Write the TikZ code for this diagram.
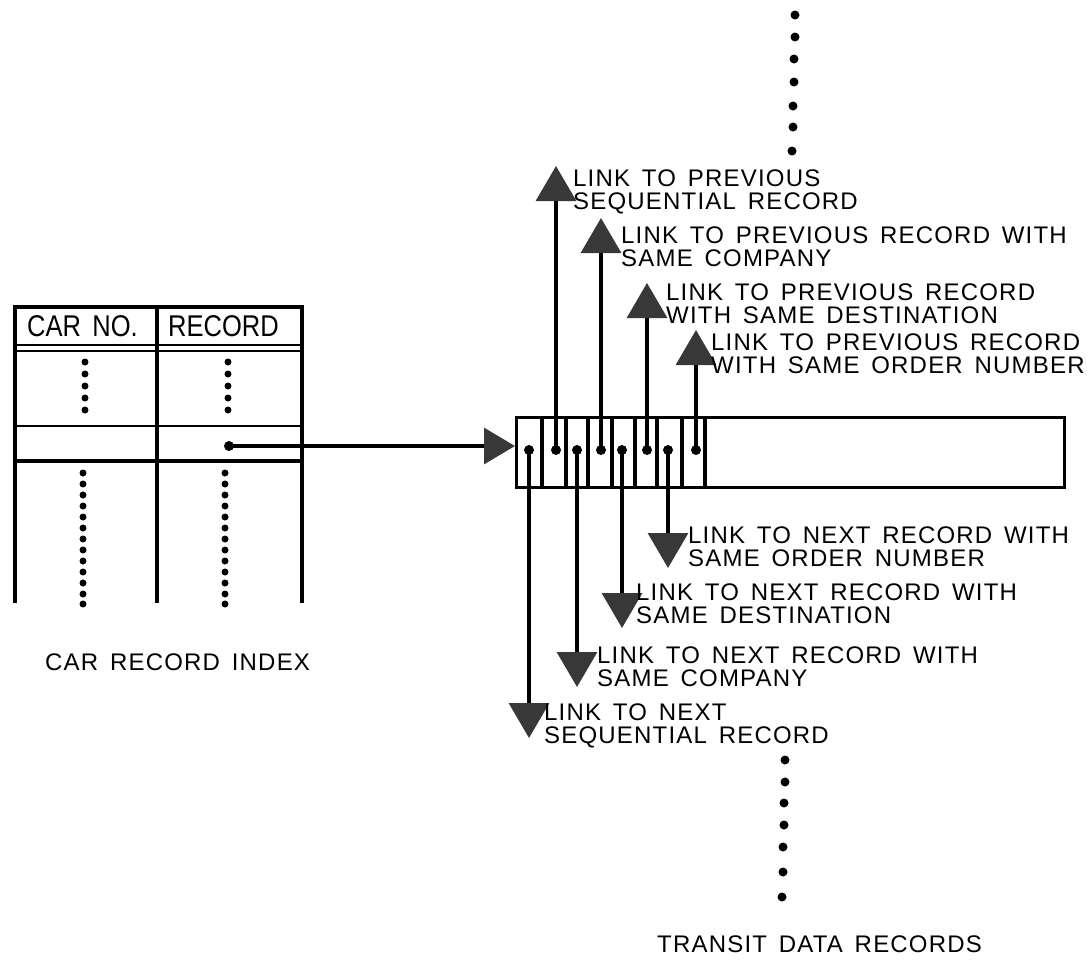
\documentclass[tikz,border=0pt]{standalone}
\usepackage{fontspec}
\usetikzlibrary{arrows.meta}
\newfontfamily\lbfont[LetterSpace=5,WordSpace=1.5]{Liberation Sans}
\newfontfamily\hdfont[FakeStretch=0.85,WordSpace=1.6]{Liberation Sans}
\begin{document}
\begin{tikzpicture}[x=1pt,y=-1pt,
  ln/.style={line width=3.2pt},
  tl/.style={line width=3.4pt},
  pdot/.style={circle,fill=black,inner sep=0pt,minimum size=10pt},
  sdot/.style={circle,fill=black,inner sep=0pt,minimum size=7pt},
  bdot/.style={circle,fill=black,inner sep=0pt,minimum size=9pt},
  tip/.style={-{Triangle[width=40pt,length=35pt,fill=black!78,color=black!78]}},
  lbl/.style={font=\lbfont\fontsize{24}{23}\selectfont,anchor=north west,inner sep=0pt,align=left},
  caption/.style={font=\lbfont\fontsize{24}{23}\selectfont,anchor=base west,inner sep=0pt},
  hdr/.style={font=\hdfont\fontsize{30}{30}\selectfont,anchor=base west,inner sep=0pt}]
\useasboundingbox (0,0) rectangle (1087,959);

% ---------- car record index table ----------
\draw[tl] (15,603) -- (15,307) -- (302,307) -- (302,603);
\draw[tl] (157,307) -- (157,603);
\draw[line width=2.6pt] (15,345) -- (302,345);
\draw[line width=2.2pt] (15,351) -- (302,351);
\draw[line width=2.6pt] (15,426) -- (302,426);
\draw[tl] (15,461) -- (302,461);
\node[hdr] (hcar) at (27,336) {CAR NO.};
\node[hdr] (hrec) at (168,336) {RECORD};
\foreach \y [count=\i] in {362,374,386,398,410} {
  \node[sdot] (la\i) at (85,\y) {};
  \node[sdot] (ra\i) at (228,\y) {};
}
\foreach \y [count=\i] in {473,484,495,506,517,528,539,550,561,572,583,594,604} {
  \node[sdot] (lb\i) at (83,\y) {};
  \node[sdot] (rb\i) at (225,\y) {};
}
\node[caption] (idx) at (45,670) {CAR RECORD INDEX};

% ---------- transit data record ----------
\node[draw,line width=3.2pt,minimum width=548pt,minimum height=70pt,anchor=north west,inner sep=0pt] (rec) at (515,416) {};
\foreach \x in {542,566,588,612,635,657,682,705} \draw[ln] (\x,416) -- (\x,486);

% pointer from index
\node[pdot] (tdot) at (229,446) {};
\draw[line width=3.2pt,-{Triangle[width=36pt,length=31pt,fill=black!78,color=black!78]}] (tdot.center) -- (tdot -| rec.west);

% cell dots
\node[pdot] (d1) at (529,450) {};
\node[pdot] (u1) at (556,450) {};
\node[pdot] (d2) at (577,450) {};
\node[pdot] (u2) at (601,450) {};
\node[pdot] (d3) at (622,450) {};
\node[pdot] (u3) at (647,450) {};
\node[pdot] (d4) at (668,450) {};
\node[pdot] (u4) at (696,450) {};

\coordinate (U1) at (556,166);
\coordinate (U2) at (601,218);
\coordinate (U3) at (647,283);
\coordinate (U4) at (696,330);
\coordinate (D1) at (529,738);
\coordinate (D2) at (577,687);
\coordinate (D3) at (622,628);
\coordinate (D4) at (668,568);

\draw[ln,tip] (u1.center) -- (U1);
\draw[ln,tip] (u2.center) -- (U2);
\draw[ln,tip] (u3.center) -- (U3);
\draw[ln,tip] (u4.center) -- (U4);
\draw[ln,tip] (d1.center) -- (D1);
\draw[ln,tip] (d2.center) -- (D2);
\draw[ln,tip] (d3.center) -- (D3);
\draw[ln,tip] (d4.center) -- (D4);

\node[lbl] (lu1) at (573,170) {LINK TO PREVIOUS\\SEQUENTIAL RECORD};
\node[lbl] (lu2) at (621,227) {LINK TO PREVIOUS RECORD WITH\\SAME COMPANY};
\node[lbl] (lu3) at (666,284) {LINK TO PREVIOUS RECORD\\WITH SAME DESTINATION};
\node[lbl] (lu4) at (711,334) {LINK TO PREVIOUS RECORD\\WITH SAME ORDER NUMBER};
\node[lbl] (ld4) at (688,527) {LINK TO NEXT RECORD WITH\\SAME ORDER NUMBER};
\node[lbl] (ld3) at (636,584) {LINK TO NEXT RECORD WITH\\SAME DESTINATION};
\node[lbl] (ld2) at (597,647) {LINK TO NEXT RECORD WITH\\SAME COMPANY};
\node[lbl] (ld1) at (544,704) {LINK TO NEXT\\SEQUENTIAL RECORD};

% continuation dots
\foreach \y/\x [count=\i] in {15/795,37/795,59/794,82/794,106/793,127/793,151/792} {
  \node[bdot] (ta\i) at (\x,\y) {};
}
\foreach \y/\x [count=\i] in {760/785,782/785,803/784,825/784,847/783,872/783,897/782} {
  \node[bdot] (tb\i) at (\x,\y) {};
}
\node[caption] (tdr) at (657,952) {TRANSIT DATA RECORDS};
\end{tikzpicture}
\end{document}
